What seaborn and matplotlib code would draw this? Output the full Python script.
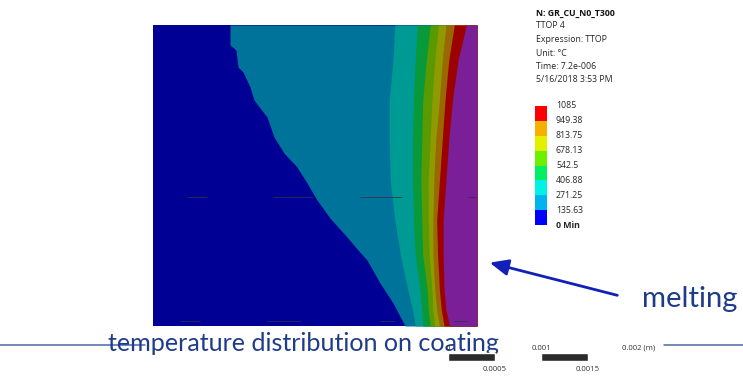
import numpy as np
import matplotlib
matplotlib.use("Agg")
import matplotlib.pyplot as plt
from matplotlib.colors import ListedColormap
from matplotlib.lines import Line2D
from matplotlib.patches import FancyArrowPatch
import seaborn as sns

W_PX, H_PX = 743, 377

# ---- contour legend -------------------------------------------------------
level_labels = ["1085", "949.38", "813.75", "678.13", "542.5",
                "406.88", "271.25", "135.63", "0 Min"]
# band colours, lowest band first
legend_colors = ["#0000ff", "#00b4f0", "#00f2e6", "#00ee62",
                 "#6cf000", "#e2f000", "#f5b000", "#ff0000"]
# shaded colours on the model surface (8 bands + above-range melt zone)
surface_colors = ["#000094", "#00739a", "#009a95", "#08993a", "#5a9a00",
                  "#8f9a00", "#9a6800", "#9c0000", "#7a1f98"]

header_title = "N: GR_CU_N0_T300"
header_lines = ["TTOP 4", "Expression: TTOP", "Unit: \u00b0C",
                "Time: 7.2e-006", "5/16/2018 3:53 PM"]

# ---- model geometry (mm) --------------------------------------------------
width_mm = 3.484
height_mm = 3.237

# 135.63 °C isotherm (cold front, stepped through the mesh)
iso135_x = [0.828, 0.828, 0.892, 0.914, 0.968, 1.043, 1.086, 1.226, 1.301,
            1.409, 1.548, 1.656, 1.763, 1.903, 2.086, 2.204, 2.301, 2.441,
            2.581, 2.710]
iso135_y = [3.237, 3.022, 2.968, 2.785, 2.731, 2.570, 2.430, 2.247, 2.032,
            1.860, 1.710, 1.538, 1.355, 1.161, 0.957, 0.817, 0.710, 0.462,
            0.247, 0.000]

# heights at which the hot-side isotherms are given (mm)
iso_y = [3.237, 2.860, 2.430, 2.000, 1.570, 1.140, 0.763, 0.387, 0.172, 0.0]
iso271_x = [2.60, 2.58, 2.54, 2.54, 2.55, 2.60, 2.66, 2.74, 2.79, 2.82]
iso407_x = [2.84, 2.82, 2.80, 2.79, 2.79, 2.80, 2.82, 2.87, 2.89, 2.90]
iso543_x = [2.98, 2.94, 2.90, 2.89, 2.88, 2.89, 2.90, 2.95, 2.96, 2.98]
iso678_x = [3.07, 3.03, 3.00, 2.98, 2.96, 2.96, 2.97, 3.00, 3.01, 3.03]
iso814_x = [3.15, 3.11, 3.08, 3.04, 3.02, 3.01, 3.01, 3.03, 3.05, 3.08]
iso949_x = [3.24, 3.18, 3.14, 3.11, 3.08, 3.05, 3.06, 3.08, 3.10, 3.13]
iso1085_x = [3.37, 3.28, 3.22, 3.18, 3.15, 3.12, 3.12, 3.13, 3.15, 3.19]

# visible mesh edges (y in mm, x-extents in mm)
mesh_y = [1.387, 1.387, 1.387, 1.387, 0.054, 0.054, 0.054, 0.054]
mesh_x0 = [0.366, 1.290, 2.226, 3.387, 0.290, 1.226, 2.441, 3.226]
mesh_x1 = [0.581, 1.720, 2.677, 3.484, 0.505, 1.581, 2.602, 3.376]

# ---- scale bar (m) --------------------------------------------------------
scale_bar_starts = [0.0, 0.001]
scale_bar_len = 0.0005
scale_top_ticks = [0.0, 0.001, 0.002]
scale_top_labels = ["0", "0.001", "0.002 (m)"]
scale_bottom_ticks = [0.0005, 0.0015]
scale_bottom_labels = ["0.0005", "0.0015"]

caption = "temperature distribution on coating"
callout = "melting"

sns.set_theme(style="white")
plt.rcParams["font.family"] = ["Open Sans", "DejaVu Sans"]

fig = plt.figure(figsize=(W_PX / 100, H_PX / 100), dpi=100)
fig.patch.set_facecolor("white")


def fx(px):
    return px / W_PX


def fy(py):
    return 1 - py / H_PX


def rect(x0, y0, x1, y1):
    return [fx(x0), fy(y1), fx(x1) - fx(x0), fy(y0) - fy(y1)]


# ---- temperature field ----------------------------------------------------
ax = fig.add_axes(rect(153, 25, 477, 326))
ax.set_xlim(0, width_mm)
ax.set_ylim(0, height_mm)
ax.axis("off")
ax.fill_betweenx([0, height_mm], 0, width_mm, color=surface_colors[0], lw=0)
ax.fill_betweenx(iso135_y, iso135_x, width_mm, color=surface_colors[1], lw=0)
hot_edges = [iso271_x, iso407_x, iso543_x, iso678_x, iso814_x, iso949_x,
             iso1085_x]
for k, xs in enumerate(hot_edges):
    ax.fill_betweenx(iso_y, xs, width_mm, color=surface_colors[k + 2], lw=0)
ax.hlines(mesh_y, mesh_x0, mesh_x1, color="#30304a", lw=0.7, alpha=0.8)

# ---- legend colour bar ----------------------------------------------------
ax_leg = fig.add_axes(rect(535, 106, 547, 225))
band_index = np.arange(len(legend_colors))[::-1].reshape(-1, 1)
sns.heatmap(band_index, ax=ax_leg, cmap=ListedColormap(legend_colors),
            vmin=-0.5, vmax=len(legend_colors) - 0.5, cbar=False,
            xticklabels=False, yticklabels=False, linewidths=0)
ax_leg.set_xlabel("")
ax_leg.set_ylabel("")

txt_col = "#262626"
n_lab = len(level_labels)
for i, lab in enumerate(level_labels):
    yy = 106 + i * (225 - 106) / (n_lab - 1)
    fig.text(fx(556), fy(yy), lab, fontsize=6.3, color=txt_col,
             ha="left", va="center",
             fontweight="bold" if "Min" in lab else "normal")

fig.text(fx(536), fy(14), header_title, fontsize=6.3, color="#111111",
         fontweight="bold", ha="left", va="center")
for i, line in enumerate(header_lines):
    fig.text(fx(536), fy(26 + i * 13.5), line, fontsize=6.3, color=txt_col,
             ha="left", va="center")

# ---- annotations ----------------------------------------------------------
line_col = "#4a6aa8"
fig.add_artist(Line2D([fx(0), fx(145)], [fy(345), fy(345)],
                      transform=fig.transFigure, color=line_col, lw=1.1))
fig.add_artist(Line2D([fx(664), fx(743)], [fy(345), fy(345)],
                      transform=fig.transFigure, color=line_col, lw=1.1))

fig.text(fx(108), fy(351), caption, fontsize=18.1, color="#1f3c88",
         family=["Lato", "DejaVu Sans"], ha="left", va="baseline")
fig.text(fx(642), fy(307), callout, fontsize=21.1, color="#1f3c88",
         family=["Lato", "DejaVu Sans"], ha="left", va="baseline")

fig.add_artist(FancyArrowPatch(
    (fx(620), fy(296)), (fx(487), fy(262)), transform=fig.transFigure,
    arrowstyle="-|>,head_length=0.8,head_width=0.35", mutation_scale=14,
    color="#1020b8", lw=2))

# ---- scale bar (drawn above the caption) ----------------------------------
ax_s = fig.add_axes(rect(448, 340, 634, 377))
ax_s.set_zorder(5)
ax_s.patch.set_alpha(0)
ax_s.set_xlim(0, 0.002)
ax_s.set_ylim(0, 1)
ax_s.axis("off")
ax_s.barh([0.53] * len(scale_bar_starts),
          [scale_bar_len] * len(scale_bar_starts),
          left=scale_bar_starts, height=0.22, color="#2b2b2b")
for t, lab in zip(scale_top_ticks, scale_top_labels):
    if "(m)" in lab:
        # keep the number centred on its tick, unit trailing to the right
        ax_s.annotate(lab, (t, 0.78), xytext=(-8.3, 0),
                      textcoords="offset points", fontsize=5.6,
                      color="#333333", ha="left", va="center",
                      annotation_clip=False)
    else:
        ax_s.text(t, 0.78, lab, fontsize=5.6, color="#333333",
                  ha="center", va="center")
for t, lab in zip(scale_bottom_ticks, scale_bottom_labels):
    ax_s.text(t, 0.2, lab, fontsize=5.6, color="#333333",
              ha="center", va="center")

fig.savefig("out.png", dpi=100, facecolor="white")
